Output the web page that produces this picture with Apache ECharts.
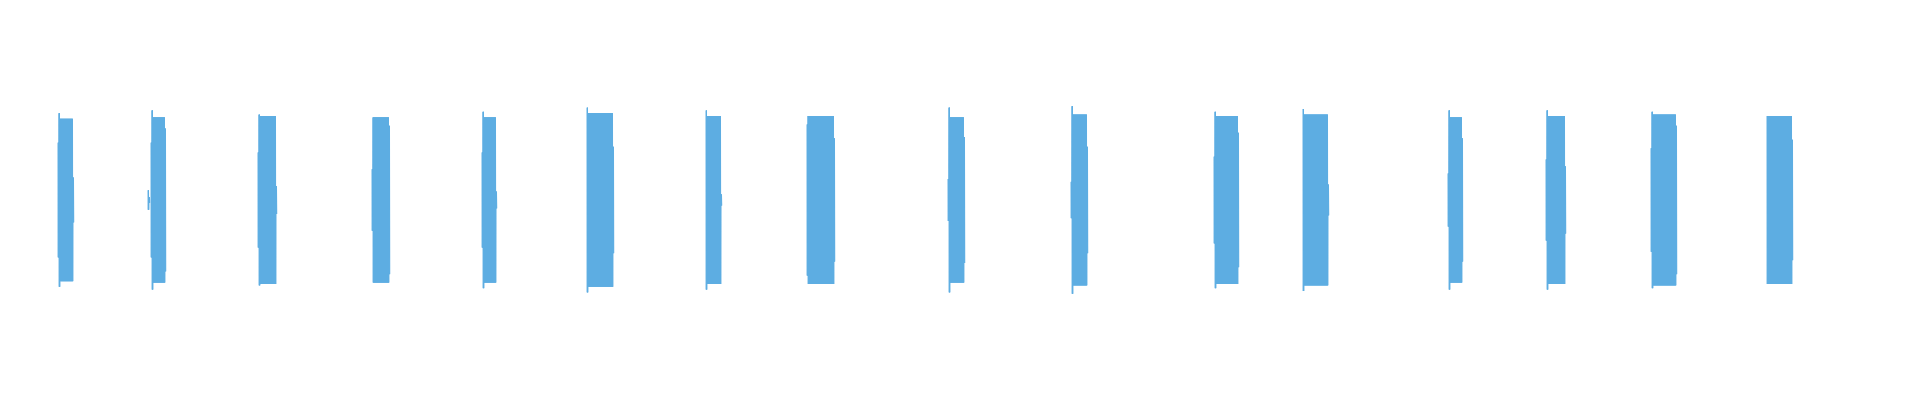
<!DOCTYPE html>
<html>
<head>
<meta charset="utf-8">
<script src="https://cdn.jsdelivr.net/npm/echarts@6/dist/echarts.min.js"></script>
<style>
html,body{margin:0;padding:0;background:#fff;}
#chart{width:1920px;height:400px;}
</style>
</head>
<body>
<div id="chart"></div>
<script>
// Waveform bursts, time in seconds
const burstStart = [0.58, 1.48, 1.51, 2.58, 3.72, 4.82, 5.87, 7.06, 8.07, 9.48, 10.71, 12.14, 13.03, 14.48, 15.46, 16.51, 17.67];
const burstEnd   = [0.73, 1.49, 1.65, 2.76, 3.89, 4.96, 6.13, 7.21, 8.34, 9.64, 10.87, 12.38, 13.28, 14.62, 15.65, 16.76, 17.92];
// amplitude of the first (attack) column, null when the burst starts at full level
const leftAmp    = [0.41, null, 0.41, 0.34, 0.22, 0.34, null, null, 0.54, 0.15, 0.13, 0.31, null, 0.19, 0.29, 0.37, null];
// peak amplitude of the onset transient
const spikeAmp   = [0.62, 0.07, 0.64, 0.61, 0.59, 0.63, 0.66, 0.64, 0.60, 0.66, 0.67, 0.63, 0.65, 0.64, 0.64, 0.63, 0.60];
// sustained amplitude of each burst
const mainAmp    = [0.58, 0.05, 0.59, 0.60, 0.59, 0.59, 0.62, 0.60, 0.60, 0.59, 0.61, 0.60, 0.61, 0.59, 0.60, 0.61, 0.60];
// amplitude of the release (last) column
const rightAmp   = [0.16, 0.02, 0.51, 0.10, 0.53, 0.06, 0.38, 0.04, 0.44, 0.45, 0.38, 0.48, 0.11, 0.44, 0.24, 0.53, 0.43];

const step = 0.01;
const data = [];
for (let b = 0; b < burstStart.length; b++) {
  const n = Math.round((burstEnd[b] - burstStart[b]) / step) + 1;
  const hasLeft = leftAmp[b] !== null;
  for (let k = 0; k < n; k++) {
    let a;
    if (k === n - 1) a = rightAmp[b];
    else if (hasLeft && k === 0) a = leftAmp[b];
    else if ((hasLeft && k === 1) || (!hasLeft && k === 0)) a = spikeAmp[b];
    else a = mainAmp[b];
    const x = burstStart[b] + k * step;
    data.push([x, a]);
    data.push([x + step * 0.25, -a]);
    data.push([x + step * 0.5, a]);
    data.push([x + step * 0.75, -a]);
  }
  data.push([burstEnd[b] + step * 1.5, null]);
}

const chart = echarts.init(document.getElementById('chart'));
chart.setOption({
  animation: false,
  grid: {left: 0, right: 0, top: 60, bottom: 60},
  xAxis: {type: 'value', min: 0, max: 19.2, show: false},
  yAxis: {type: 'value', min: -1, max: 1, show: false},
  series: [{
    type: 'line',
    data: data,
    symbol: 'none',
    showSymbol: false,
    connectNulls: false,
    sampling: null,
    lineStyle: {width: 1, color: '#5dade2', join: 'bevel'},
    itemStyle: {color: '#5dade2'}
  }]
});
</script>
</body>
</html>
